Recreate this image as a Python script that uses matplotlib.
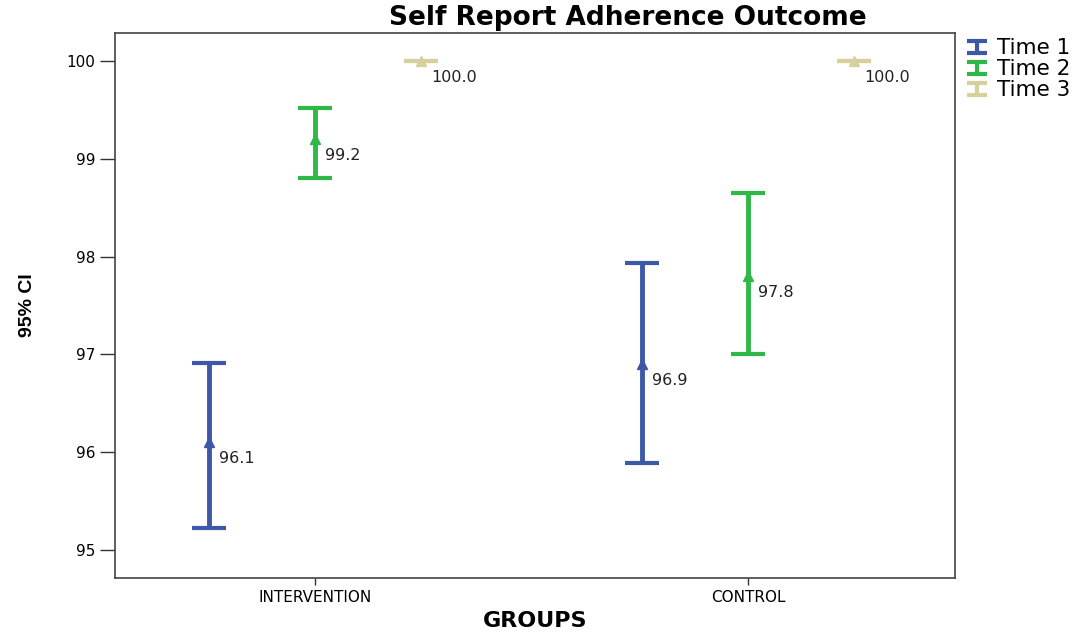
import matplotlib.pyplot as plt
import numpy as np
from matplotlib.lines import Line2D
from matplotlib.path import Path

groups = ["INTERVENTION", "CONTROL"]
times = ["Time 1", "Time 2", "Time 3"]
means = {
    "Time 1": [96.1, 96.9],
    "Time 2": [99.2, 97.8],
    "Time 3": [100.0, 100.0],
}
lower = {
    "Time 1": [95.22, 95.89],
    "Time 2": [98.81, 97.00],
    "Time 3": [100.0, 100.0],
}
upper = {
    "Time 1": [96.91, 97.94],
    "Time 2": [99.52, 98.65],
    "Time 3": [100.0, 100.0],
}
colors = {"Time 1": "#3d58a8", "Time 2": "#2fb847", "Time 3": "#d6d09c"}

fig = plt.figure(figsize=(10.86, 6.33), dpi=100)
ax = fig.add_axes([115 / 1086, 1 - 578 / 633, 840 / 1086, 545 / 633])

x = np.arange(len(groups))
offsets = [-0.245, 0.0, 0.245]
for t, off in zip(times, offsets):
    m = np.array(means[t])
    lo = m - np.array(lower[t])
    hi = np.array(upper[t]) - m
    xs = x + off
    ax.errorbar(xs, m, yerr=[lo, hi], fmt="none", ecolor=colors[t],
                elinewidth=3.5, capsize=12.5, capthick=3)
    ax.plot(xs, m, marker="^", linestyle="none", color=colors[t], markersize=6.5)
    for xi, mi in zip(xs, m):
        ax.annotate(f"{mi:.1f}", (xi, mi), xytext=(7.5, -11.5), textcoords="offset points",
                    fontsize=11.5, color="#222222", va="center", ha="left",
                    family="DejaVu Sans")

ax.set_xlim(-0.462, 1.478)
ax.set_ylim(94.71, 100.29)
ax.set_xticks(x)
ax.set_xticklabels(groups, family="DejaVu Sans", fontsize=11)
ax.set_yticks([95, 96, 97, 98, 99, 100])
ax.set_yticklabels(["95", "96", "97", "98", "99", "100"], family="DejaVu Sans", fontsize=11)
ax.tick_params(axis="x", length=5, width=1, color="#333333", pad=4)
ax.tick_params(axis="y", length=11, width=1, color="#333333", pad=3)
for s in ax.spines.values():
    s.set_color("#444444")
    s.set_linewidth(1.2)

ax.set_xlabel("GROUPS", fontsize=16, fontweight="bold", family="DejaVu Sans", labelpad=4)
ax.set_ylabel("95% CI", fontsize=14, fontweight="bold", family="Liberation Sans", labelpad=22)
fig.text(628 / 1086, 1 - 18 / 633, "Self Report Adherence Outcome", fontsize=19,
         fontweight="bold", family="DejaVu Sans", ha="center", va="center")

# I-beam legend symbols (wider than tall)
ibeam = Path([(-1, 0.6), (1, 0.6), (0, 0.6), (0, -0.6), (-1, -0.6), (1, -0.6)],
             [Path.MOVETO, Path.LINETO, Path.MOVETO, Path.LINETO, Path.MOVETO, Path.LINETO])
handles = [Line2D([], [], linestyle="none", marker=ibeam, markersize=15,
                  markeredgewidth=3, markeredgecolor=colors[t], markerfacecolor="none")
           for t in times]
ax.legend(handles, times, loc="upper left", bbox_to_anchor=(1.0, 1.006), frameon=False,
          handlelength=1.2, handletextpad=0.35, labelspacing=0.05,
          borderaxespad=0.0, prop={"family": "DejaVu Sans", "size": 15.5})

fig.savefig("out.png", dpi=100)
